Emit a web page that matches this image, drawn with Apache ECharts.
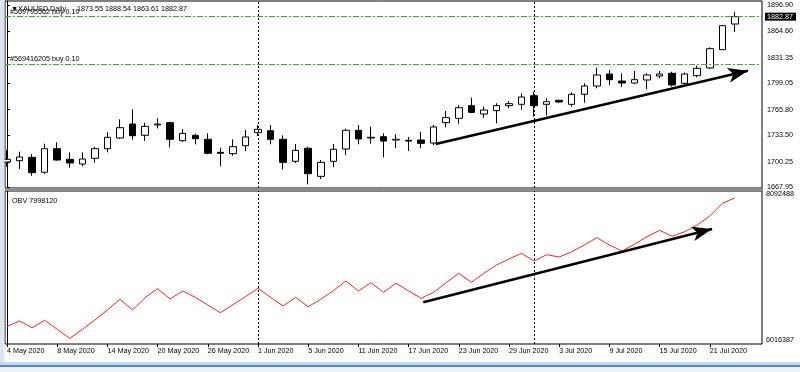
<!DOCTYPE html>
<html><head><meta charset="utf-8">
<script src="https://cdn.jsdelivr.net/npm/echarts@6/dist/echarts.min.js"></script>
<style>html,body{margin:0;padding:0;background:#fff;}#c{width:800px;height:372px;}</style>
</head><body><div id="c"></div>
<script>
// ---- bars (trading days) ----
const dates = [
  '4 May 2020','5 May 2020','6 May 2020','7 May 2020','8 May 2020','11 May 2020','12 May 2020','13 May 2020','14 May 2020','15 May 2020',
  '18 May 2020','19 May 2020','20 May 2020','21 May 2020','22 May 2020','25 May 2020','26 May 2020','27 May 2020','28 May 2020','29 May 2020',
  '1 Jun 2020','2 Jun 2020','3 Jun 2020','4 Jun 2020','5 Jun 2020','8 Jun 2020','9 Jun 2020','10 Jun 2020','11 Jun 2020','12 Jun 2020',
  '15 Jun 2020','16 Jun 2020','17 Jun 2020','18 Jun 2020','19 Jun 2020','22 Jun 2020','23 Jun 2020','24 Jun 2020','25 Jun 2020','26 Jun 2020',
  '29 Jun 2020','30 Jun 2020','1 Jul 2020','2 Jul 2020','3 Jul 2020','6 Jul 2020','7 Jul 2020','8 Jul 2020','9 Jul 2020','10 Jul 2020',
  '13 Jul 2020','14 Jul 2020','15 Jul 2020','16 Jul 2020','17 Jul 2020','20 Jul 2020','21 Jul 2020','22 Jul 2020','23 Jul 2020'
];
const open = [1700.0,1701.7,1705.9,1687.1,1716.8,1703.4,1697.5,1704.7,1716.8,1730.2,
  1747.8,1733.6,1746.6,1749.5,1726.8,1733.6,1728.6,1712.2,1710.5,1720.5,
  1736.9,1739.4,1728.6,1700.9,1717.3,1682.0,1700.9,1716.4,1739.9,1730.2,
  1731.9,1727.7,1727.3,1727.7,1723.9,1749.5,1755.0,1770.9,1760.4,1764.6,
  1770.9,1772.6,1783.4,1772.6,1777.6,1772.6,1785.2,1795.6,1810.7,1801.9,
  1799.4,1803.2,1808.2,1811.6,1799.0,1808.6,1818.3,1841.3,1873.55];
const high = [1715.1,1713.0,1709.7,1723.0,1724.8,1712.2,1712.2,1719.3,1737.4,1753.7,
  1766.3,1749.5,1755.0,1750.7,1741.5,1735.6,1736.1,1718.0,1728.6,1740.3,
  1746.6,1746.6,1733.6,1722.7,1719.3,1702.5,1722.7,1741.9,1746.6,1744.4,
  1736.1,1734.9,1731.5,1738.1,1746.6,1764.2,1771.7,1780.9,1769.6,1773.9,
  1776.8,1786.5,1788.5,1780.2,1778.4,1787.7,1799.0,1818.7,1815.8,1811.6,
  1814.5,1811.6,1814.5,1813.6,1812.4,1821.2,1844.3,1872.4,1888.54];
const low = [1694.1,1691.2,1682.8,1685.3,1701.7,1692.9,1694.6,1699.1,1712.2,1729.0,
  1728.1,1726.4,1742.4,1718.5,1725.2,1722.3,1709.7,1694.6,1707.9,1713.9,
  1732.7,1722.3,1690.8,1698.8,1672.0,1678.6,1693.4,1708.8,1722.3,1723.0,
  1705.9,1717.3,1713.9,1717.3,1721.4,1743.7,1748.2,1761.3,1755.8,1748.7,
  1767.6,1765.8,1757.0,1758.3,1774.2,1769.6,1774.6,1792.7,1796.9,1794.4,
  1798.5,1791.9,1805.3,1794.8,1797.8,1806.6,1817.0,1840.9,1863.61];
const close = [1703.4,1706.3,1686.6,1716.8,1702.5,1698.8,1703.8,1716.8,1731.1,1743.2,
  1733.1,1744.9,1747.8,1728.6,1736.1,1729.3,1711.0,1711.0,1719.3,1731.5,
  1741.2,1728.6,1699.6,1714.7,1685.3,1699.6,1716.0,1739.9,1729.0,1731.1,
  1726.4,1728.6,1726.4,1723.5,1744.1,1755.8,1768.3,1762.5,1765.4,1770.9,
  1773.4,1781.8,1770.9,1775.9,1775.5,1785.2,1795.6,1809.5,1803.6,1799.4,
  1803.6,1809.5,1810.7,1796.9,1810.7,1817.9,1842.6,1871.5,1882.87];
const obv = [6253850,6328480,6237570,6337980,6215850,6093730,6213140,6342050,6477740,6622930,
  6477740,6644640,6766770,6627000,6735560,6650070,6545590,6441100,6549660,6658210,
  6772200,6650070,6532020,6650070,6522520,6622930,6739630,6871250,6735560,6848180,
  6717920,6840040,6735560,6636500,6717920,6848180,6975740,6853610,6975740,7088360,
  7169780,7247120,7142640,7228120,7196910,7268830,7359750,7458800,7359750,7278330,
  7369240,7472370,7559220,7477800,7540220,7631130,7753260,7925590,7998120];

// ---- tick labels ----
const xTickLabels = ['4 May 2020','8 May 2020','14 May 2020','20 May 2020','26 May 2020','1 Jun 2020','5 Jun 2020',
  '11 Jun 2020','17 Jun 2020','23 Jun 2020','29 Jun 2020','3 Jul 2020','9 Jul 2020','15 Jul 2020','21 Jul 2020'];
const priceTicks = [1667.95,1700.25,1733.50,1765.80,1799.05,1831.35,1864.60,1896.90];
const obvTicks = [6016387,8092488];

// ---- annotations ----
const separators = ['1 Jun 2020','1 Jul 2020'];
const orderPrices = [1883.5,1823.3];
const orderLabels = ['#569795562 buy 0.10','#569416205 buy 0.10'];
const priceArrow = [[34.16,1722.7],[59.04,1814.9]];
const obvArrow = [[33.17,6582230],[56.18,7576860]];

const FONT = '"Liberation Sans", Arial, sans-serif';
const FS = 7.2;
const last = dates.length - 1;
const candles = dates.map((d,i)=>[i, open[i], close[i], low[i], high[i]]);
const obvData = obv.map((v,i)=>[i,v]);
const sepIdx = separators.map(s=>dates.indexOf(s));
const tickIdx = xTickLabels.map(s=>dates.indexOf(s));
const bidPrice = close[last];
const xMin = -0.16, xMax = 60.16;

const txt = {fontSize:FS, fontWeight:'normal', color:'#000', fontFamily:FONT};
const sepLines = sepIdx.map(i=>({xAxis:i, lineStyle:{color:'#000', type:[2,2], width:1}, label:{show:false}}));
const arrowStyle = {color:'#000', width:2.5, type:'solid'};

const chart = echarts.init(document.getElementById('c'), null, {renderer:'canvas'});
chart.setOption({
  animation:false,
  backgroundColor:'#fff',
  textStyle:{fontFamily:FONT},
  title:[
    {text:'\u25BCXAUUSD,Daily', left:6, top:1, textStyle:txt},
    {text:[open[last],high[last],low[last],close[last]].map(v=>v.toFixed(2)).join(' '), left:72, top:1, textStyle:txt},
    {text:'OBV ' + obv[last], left:7, top:193, textStyle:txt}
  ],
  grid:[
    {left:5, right:38, top:1, height:187, show:true, borderColor:'#000', borderWidth:1, backgroundColor:'transparent', outerBoundsMode:'none', containLabel:false},
    {left:5, right:38, top:191, height:153, show:true, borderColor:'#000', borderWidth:1, backgroundColor:'transparent', outerBoundsMode:'none', containLabel:false}
  ],
  xAxis:[
    {type:'value', gridIndex:0, min:xMin, max:xMax, axisLine:{show:false, onZero:false}, axisTick:{show:false}, axisLabel:{show:false}, splitLine:{show:false}},
    {type:'value', gridIndex:1, min:xMin, max:xMax, axisLine:{show:false, onZero:false},
     axisTick:{show:true, customValues:tickIdx, length:3, lineStyle:{color:'#000'}},
     axisLabel:{customValues:tickIdx, formatter:v=>dates[Math.round(v)], align:'left', margin:4, fontSize:FS, color:'#000', fontFamily:FONT},
     splitLine:{show:false}}
  ],
  yAxis:[
    {type:'value', gridIndex:0, position:'right', min:1667.32, max:1902.56,
     axisLine:{show:true, lineStyle:{color:'#000'}},
     axisTick:{show:true, customValues:priceTicks, length:3, lineStyle:{color:'#000'}},
     axisLabel:{customValues:priceTicks, formatter:v=>Number(v).toFixed(2), margin:5, fontSize:FS, color:'#000', fontFamily:FONT},
     splitLine:{show:false}},
    {type:'value', gridIndex:1, position:'right', min:6016387, max:8092488,
     axisLine:{show:true, lineStyle:{color:'#000'}},
     axisTick:{show:false},
     axisLabel:{customValues:obvTicks, formatter:v=>String(v), margin:4, fontSize:FS, color:'#000', fontFamily:FONT,
       verticalAlignMinLabel:'bottom', verticalAlignMaxLabel:'top'},
     splitLine:{show:false}}
  ],
  series:[
    {
      type:'candlestick', xAxisIndex:0, yAxisIndex:0, data:candles, barWidth:7,
      itemStyle:{color:'#fff', color0:'#000', borderColor:'#000', borderColor0:'#000', borderColorDoji:'#000', borderWidth:1},
      markLine:{
        silent:true, symbol:'none', animation:false,
        data:[
          ...orderPrices.map((p,k)=>({yAxis:p, lineStyle:{color:'#2db52d', type:[6,2,2,2], width:1},
            label:{show:true, position:'insideStartTop', formatter:orderLabels[k], distance:[5,1], fontSize:FS, color:'#000', fontFamily:FONT}})),
          {yAxis:bidPrice, lineStyle:{color:'rgba(0,0,0,0)', width:0},
            label:{show:true, position:'end', formatter:bidPrice.toFixed(2), distance:3, color:'#fff', backgroundColor:'#000', padding:[1,3,0,2], fontSize:FS, fontFamily:FONT}},
          ...sepLines,
          [{coord:priceArrow[0], symbol:'none', lineStyle:arrowStyle, label:{show:false}},
           {coord:priceArrow[1], symbol:'arrow', symbolSize:[11,20], lineStyle:arrowStyle}]
        ]
      }
    },
    {
      type:'line', xAxisIndex:1, yAxisIndex:1, data:obvData, symbol:'none',
      lineStyle:{color:'#ff2020', width:1},
      markLine:{
        silent:true, symbol:'none', animation:false,
        data:[
          ...sepLines,
          [{coord:obvArrow[0], symbol:'none', lineStyle:arrowStyle, label:{show:false}},
           {coord:obvArrow[1], symbol:'arrow', symbolSize:[11,20], lineStyle:arrowStyle}]
        ]
      }
    }
  ],
  graphic:[
    {type:'rect', z:100, shape:{x:0, y:0, width:4.5, height:362}, style:{fill:'#dfe5ec'}},
    {type:'rect', z:100, shape:{x:5, y:188, width:758, height:3}, style:{fill:'#8c8c8c'}},
    {type:'rect', z:100, shape:{x:0, y:362, width:800, height:3}, style:{fill:'#c2d8ef'}},
    {type:'rect', z:100, shape:{x:0, y:365, width:800, height:2}, style:{fill:'#4f8bc9'}},
    {type:'rect', z:100, shape:{x:0, y:367, width:800, height:5}, style:{fill:'#eef0f3'}}
  ]
});
</script></body></html>
